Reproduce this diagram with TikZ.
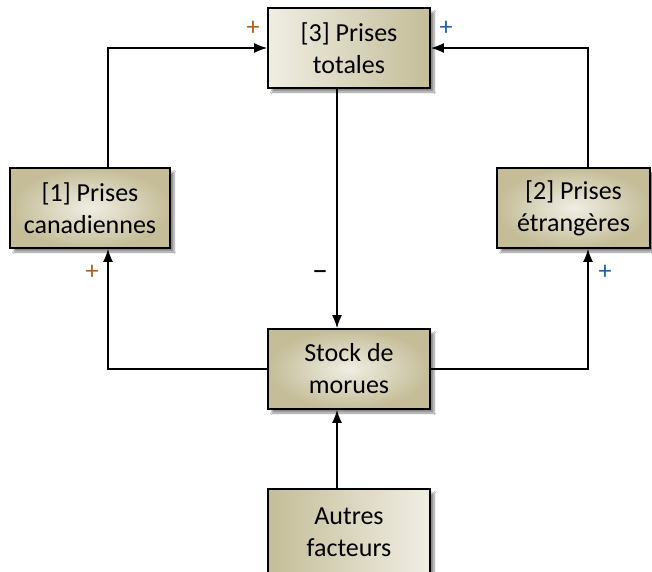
\documentclass[tikz,border=0pt]{standalone}
\usepackage{fontspec}
\setmainfont{Carlito}
\usetikzlibrary{arrows.meta,shadows.blur}
\definecolor{tanC}{RGB}{196,189,152}
\definecolor{lightC}{RGB}{240,238,228}
\definecolor{plusL}{RGB}{176,96,24}
\definecolor{plusR}{RGB}{30,100,170}
\tikzset{
  boxbase/.style={draw=black, line width=1.6pt, inner sep=0pt, align=center,
    minimum height=80pt, font=\fontsize{26pt}{32pt}\selectfont,
    blur shadow={shadow xshift=4pt, shadow yshift=-4pt, shadow blur steps=6,
      shadow opacity=45}},
  radbox/.style={boxbase, shading=radial, inner color=lightC, outer color=tanC},
  lrbox/.style={boxbase, left color=lightC, right color=tanC},
  rlbox/.style={boxbase, left color=tanC, right color=lightC},
  arr/.style={line width=1.6pt, -{Latex[length=13pt,width=10pt]}},
  sign/.style={font=\fontsize{26pt}{26pt}\selectfont, inner sep=0pt}
}
\begin{document}
\begin{tikzpicture}[x=1pt,y=-1pt]
\clip (0,0) rectangle (652,571);
\fill[white] (0,0) rectangle (652,571);

\node[lrbox, minimum width=162pt] (tot) at (349,48) {[3] Prises\\totales};
\node[radbox, minimum width=160pt] (can) at (90,208) {[1] Prises\\canadiennes};
\node[radbox, minimum width=153pt] (etr) at (573.5,208) {[2] Prises\\étrangères};
\node[radbox, minimum width=162pt] (stock) at (349,369) {Stock de\\morues};
\node[rlbox, minimum width=162pt, minimum height=100pt] (aut) at (349,539) {};
\node[font=\fontsize{26pt}{32pt}\selectfont, align=center, anchor=north] (auttxt) at (349,504) {Autres\\facteurs};

\coordinate (lx) at (108,0);
\coordinate (rx) at (588,0);
\coordinate (mx) at (337,0);

\draw[arr] (lx |- can.north) |- (tot.west);
\draw[arr] (rx |- etr.north) |- (tot.east);
\draw[arr] (stock.west) -| (lx |- can.south);
\draw[arr] (stock.east) -| (rx |- etr.south);
\draw[arr] (mx |- tot.south) -- (mx |- stock.north);
\draw[arr] (mx |- aut.north) -- (mx |- stock.south);

\node[sign, text=plusL] (p1) at (253,28) {+};
\node[sign, text=plusR] (p2) at (446,28) {+};
\node[sign, text=plusL] (p3) at (92,272) {+};
\node[sign, text=plusR] (p4) at (605,272) {+};
\node[sign, text=black, font=\fontsize{32pt}{32pt}\selectfont] (m1) at (320,276) {–};
\end{tikzpicture}
\end{document}
